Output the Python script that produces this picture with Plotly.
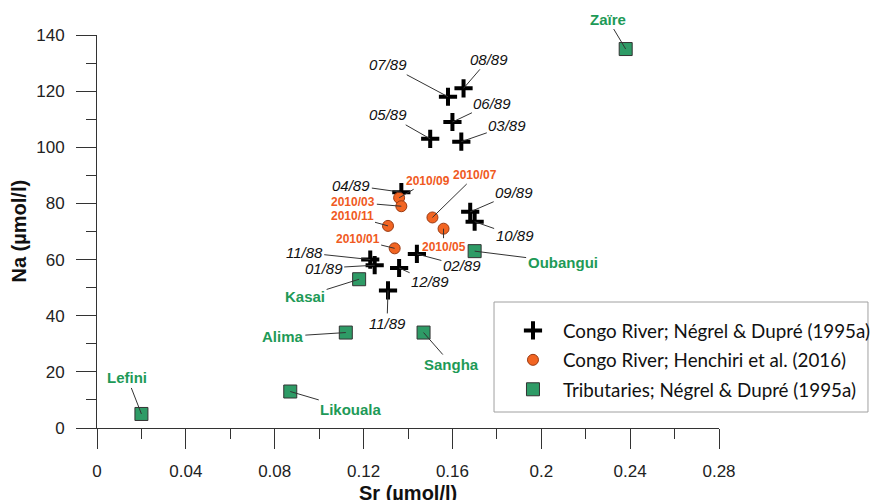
import plotly.graph_objects as go

# ---- data ----
# Congo River; Négrel & Dupré (1995a)
negrel_labels = ["07/89", "08/89", "06/89", "05/89", "03/89", "04/89", "09/89",
                 "10/89", "11/88", "01/89", "02/89", "12/89", "11/89"]
negrel_sr = [0.158, 0.165, 0.160, 0.150, 0.164, 0.137, 0.168,
             0.170, 0.123, 0.125, 0.144, 0.136, 0.131]
negrel_na = [118, 121, 109, 103, 102, 84, 77, 73.5, 60, 58, 62, 57, 49]

# Congo River; Henchiri et al. (2016)
henchiri_labels = ["2010/09", "2010/03", "2010/11", "2010/07", "2010/05", "2010/01"]
henchiri_sr = [0.136, 0.137, 0.131, 0.151, 0.156, 0.134]
henchiri_na = [82, 79, 72, 75, 71, 64]

# Tributaries; Négrel & Dupré (1995a)
trib_labels = ["Zaïre", "Oubangui", "Kasai", "Alima", "Sangha", "Lefini", "Likouala"]
trib_sr = [0.238, 0.170, 0.118, 0.112, 0.147, 0.020, 0.087]
trib_na = [135, 63, 53, 34, 34, 5, 13]

x_ticks = [0, 0.04, 0.08, 0.12, 0.16, 0.2, 0.24, 0.28]
x_ticktext = ["0", "0.04", "0.08", "0.12", "0.16", "0.2", "0.24", "0.28"]
y_ticks = [0, 20, 40, 60, 80, 100, 120, 140]

# ---- label placement (pixel offsets of label from its point) ----
label_offsets = {
    "07/89": (-60, -32), "08/89": (25, -29), "06/89": (40, -19), "05/89": (-42, -24),
    "03/89": (46, -16), "04/89": (-50, -7), "09/89": (44, -19), "10/89": (40, 14),
    "11/88": (-66, -7), "01/89": (-51, 3), "02/89": (45, 12), "12/89": (31, 14),
    "11/89": (-1, 33),
    "2010/09": (29, -17), "2010/03": (-48, -4), "2010/11": (-36, -10),
    "2010/07": (43, -42), "2010/05": (0, 18), "2010/01": (-37, -9),
    "Zaïre": (-18, -30), "Oubangui": (88, 11), "Kasai": (-54, 17), "Alima": (-63, 4),
    "Sangha": (28, 32), "Lefini": (-14, -36), "Likouala": (61, 18),
}

ARIAL = "Arial, Liberation Sans, sans-serif"
ORANGE = "#F26522"
GREEN = "#2E9B66"
GREEN_TXT = "#1E9A57"

fig = go.Figure()

fig.add_trace(go.Scatter(
    x=negrel_sr, y=negrel_na, mode="markers",
    name="Congo River; Négrel & Dupré (1995a)", legendgroup="a",
    marker=dict(symbol="cross-thin", size=13, color="black",
                line=dict(color="black", width=4)),
    cliponaxis=False,
))
fig.add_trace(go.Scatter(
    x=henchiri_sr, y=henchiri_na, mode="markers",
    name="Congo River; Henchiri et al. (2016)", legendgroup="b",
    marker=dict(symbol="circle", size=11, color=ORANGE,
                line=dict(color="#9A3A12", width=1)),
    cliponaxis=False,
))
fig.add_trace(go.Scatter(
    x=trib_sr, y=trib_na, mode="markers",
    name="Tributaries; Négrel & Dupré (1995a)", legendgroup="c",
    marker=dict(symbol="square", size=13, color=GREEN,
                line=dict(color="#333333", width=1)),
    cliponaxis=False,
))

annotations = []

def add_labels(labels, xs, ys, font):
    for lab, xv, yv in zip(labels, xs, ys):
        ax, ay = label_offsets[lab]
        annotations.append(dict(
            x=xv, y=yv, xref="x", yref="y", text=lab,
            showarrow=True, arrowhead=0, arrowwidth=1, arrowcolor="#333333",
            ax=ax, ay=ay, font=font, borderpad=1,
        ))

add_labels(negrel_labels, negrel_sr, negrel_na,
           dict(family=ARIAL, size=15, color="#111111", style="italic"))
add_labels(henchiri_labels, henchiri_sr, henchiri_na,
           dict(family=ARIAL, size=12, color="#F05A22", weight="bold"))
add_labels(trib_labels, trib_sr, trib_na,
           dict(family=ARIAL, size=15, color=GREEN_TXT, weight="bold"))

# axis titles
annotations.append(dict(
    text="Sr (µmol/l)", xref="paper", yref="paper", x=0.5, y=-0.165,
    xanchor="center", yanchor="middle", showarrow=False,
    font=dict(family=ARIAL, size=20, color="#111111", weight="bold"),
))
annotations.append(dict(
    text="Na (µmol/l)", xref="paper", yref="paper", x=-0.127, y=0.5,
    xanchor="center", yanchor="middle", showarrow=False, textangle=-90,
    font=dict(family=ARIAL, size=20, color="#111111", weight="bold"),
))

# legend frame
shapes = [dict(
    type="rect", xref="paper", yref="paper",
    x0=0.6383, x1=1.2395, y0=0.0407, y1=0.3206,
    line=dict(color="#A0A0A0", width=1), fillcolor="white", layer="above",
)]

fig.update_layout(
    width=877, height=500,
    margin=dict(l=97, r=158, t=35, b=72, autoexpand=False),
    plot_bgcolor="white", paper_bgcolor="white",
    annotations=annotations,
    shapes=shapes,
    showlegend=True,
    legend=dict(
        x=0.6527, y=0.296, xanchor="left", yanchor="top",
        borderwidth=0, bgcolor="rgba(0,0,0,0)",
        font=dict(family="Lato, Open Sans, sans-serif", size=18.8, color="#111111"),
        traceorder="grouped", tracegroupgap=2, itemwidth=50,
    ),
    xaxis=dict(
        range=[0, 0.28], tickvals=x_ticks, ticktext=x_ticktext,
        showline=True, linecolor="#333333", linewidth=1,
        ticks="outside", ticklen=20, tickcolor="#333333", tickwidth=1,
        showgrid=False, zeroline=False, ticklabelstandoff=8,
        tickfont=dict(family=ARIAL, size=17, color="#222222"),
        minor=dict(dtick=0.02, tick0=0, ticks="outside", ticklen=10,
                   tickcolor="#333333", showgrid=False),
    ),
    yaxis=dict(
        range=[0, 140], tickvals=y_ticks,
        showline=True, linecolor="#333333", linewidth=1,
        ticks="outside", ticklen=20, tickcolor="#333333", tickwidth=1,
        showgrid=False, zeroline=False, ticklabelstandoff=8,
        tickfont=dict(family=ARIAL, size=17, color="#222222"),
        minor=dict(dtick=10, tick0=0, ticks="outside", ticklen=10,
                   tickcolor="#333333", showgrid=False),
    ),
)

fig.write_html(
    "out.html",
    config=dict(responsive=False, displayModeBar=False),
    post_script="document.body.style.margin='0';document.body.style.overflow='hidden';",
)
